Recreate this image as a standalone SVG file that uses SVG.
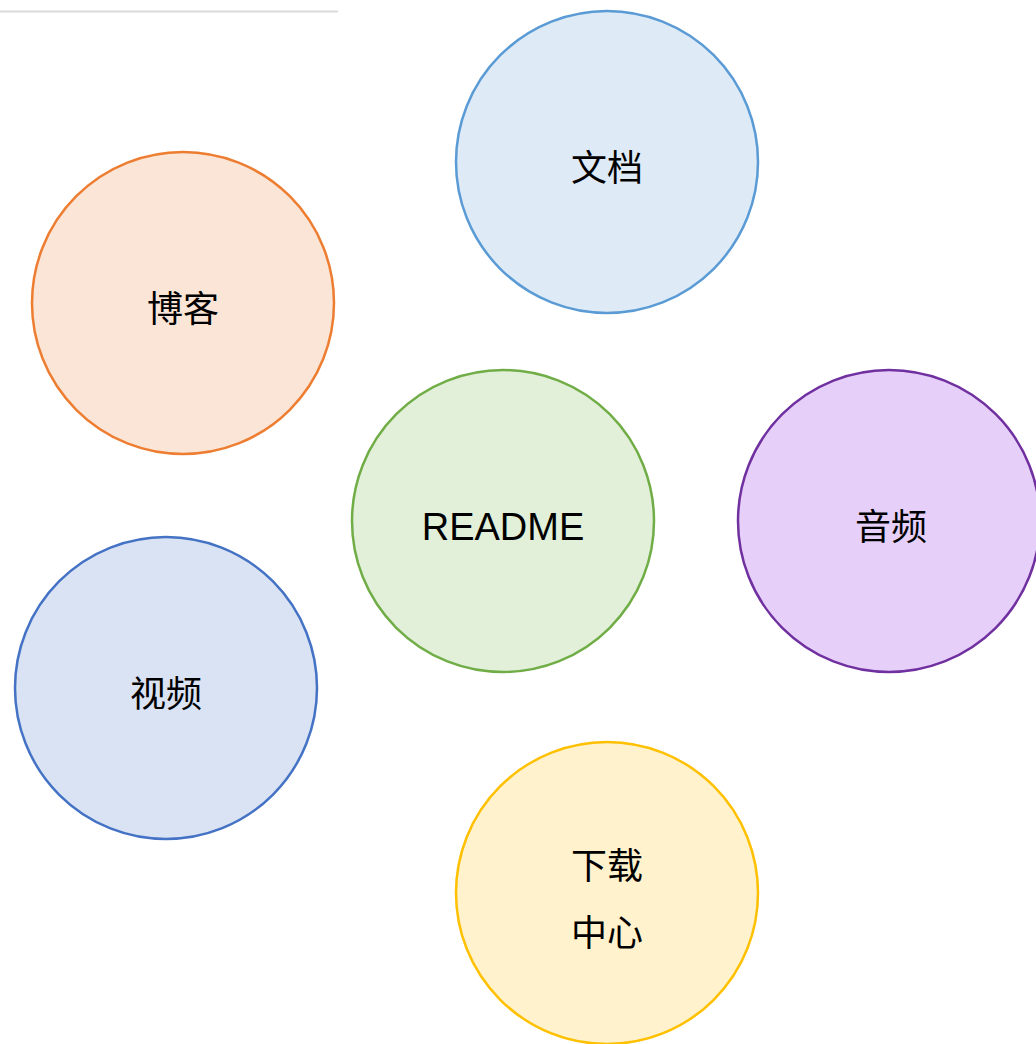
<svg xmlns="http://www.w3.org/2000/svg" width="1036" height="1044" viewBox="0 0 1036 1044">
<style>
.n{stroke-width:2.5}
.t{font-family:"Liberation Sans","Noto Sans CJK SC",sans-serif;font-size:36px;fill:#000;text-anchor:middle;dominant-baseline:central}
</style>
<rect width="1036" height="1044" fill="#fff"/>
<line x1="0" y1="11.5" x2="338" y2="11.5" stroke="#d9d9d9" stroke-width="2"/>
<g id="connectors"></g>
<g id="wendang"><circle class="n" cx="607" cy="162" r="151" fill="#deebf7" stroke="#5b9bd5"/><text class="t" x="607" y="168">文档</text></g>
<g id="boke"><circle class="n" cx="183" cy="303" r="151" fill="#fbe5d6" stroke="#ed7d31"/><text class="t" x="183" y="309">博客</text></g>
<g id="readme"><circle class="n" cx="503" cy="521" r="151" fill="#e2f0d9" stroke="#70ad47"/><text class="t" x="503" y="527" style="font-size:38px">README</text></g>
<g id="yinpin"><circle class="n" cx="889" cy="521" r="151" fill="#e6d0fa" stroke="#7030a0"/><text class="t" x="891" y="527">音频</text></g>
<g id="shipin"><circle class="n" cx="166" cy="688" r="151" fill="#dae3f3" stroke="#4472c4"/><text class="t" x="166" y="694">视频</text></g>
<g id="xiazai"><circle class="n" cx="607" cy="893" r="151" fill="#fff2cc" stroke="#ffc000"/><text class="t" x="607" y="866">下载</text><text class="t" x="607" y="933">中心</text></g>
</svg>
